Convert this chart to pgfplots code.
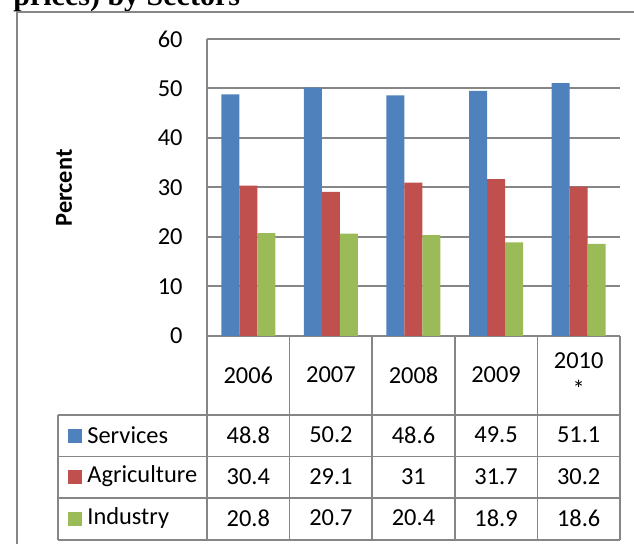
\documentclass[border=0pt]{standalone}
\usepackage{pgfplots}
\usepackage{pgfplotstable}
\pgfplotsset{compat=1.18}
\usepackage{fontspec}
\setmainfont{Carlito}
\newfontfamily\titlefont{Liberation Serif}

\definecolor{svc}{RGB}{79,129,189}
\definecolor{agr}{RGB}{192,80,77}
\definecolor{ind}{RGB}{155,187,89}
\definecolor{lin}{RGB}{134,134,134}

\pgfplotstableread{
x services agriculture industry
0 48.8 30.4 20.8
1 50.2 29.1 20.7
2 48.6 31 20.4
3 49.5 31.7 18.9
4 51.1 30.2 18.6
}\data

\newcommand{\cf}{\fontsize{12.2}{14.5}\selectfont}

\begin{document}
\begin{tikzpicture}
\useasboundingbox (0,0) rectangle (317pt,-272pt);

% title (cut at the top) and outer frame, coordinates in pixels
\begin{scope}[x=0.5pt,y=-0.5pt]
  \node[overlay, anchor=base west, inner sep=0pt, font=\titlefont\fontsize{15}{18}\selectfont\bfseries] at (13,6) {prices) by Sectors};
  \draw[lin, line width=1pt] (17,544) -- (17,12.5) -- (634,12.5);
  \node[rotate=90, font=\cf\bfseries] at (64,188) {Percent};

  % data table grid
  \foreach \k in {0,...,5} {
    \draw[lin, line width=0.8pt] ({207+\k*82.6},336) -- ({207+\k*82.6},540);
  }
  \draw[lin, line width=0.8pt] (58,415) -- (58,540);
  \foreach \yy in {415,456.7,498.3,540} {
    \draw[lin, line width=0.8pt] (58,\yy) -- (620,\yy);
  }
  % legend keys in the table
  \fill[svc] (68,429) rectangle (82,443);
  \fill[agr] (68,470.5) rectangle (82,484.5);
  \fill[ind] (68,512) rectangle (82,526);
  \node[anchor=west, inner sep=0pt, font=\cf] at (87,435) {Services};
  \node[anchor=west, inner sep=0pt, font=\cf] at (87,476.5) {Agriculture};
  \node[anchor=west, inner sep=0pt, font=\cf] at (87,518) {Industry};
\end{scope}

\begin{axis}[
  at={(103.5pt,-168pt)}, anchor=south west,
  scale only axis,
  width=206.5pt, height=148.5pt,
  xmin=-0.5, xmax=4.5,
  ymin=0, ymax=60,
  ytick={0,10,...,60},
  xtick={0,...,4},
  xticklabels={2006,2007,2008,2009,{2010\\*}},
  axis lines*=left,
  axis line style={draw=lin, line width=1pt},
  ymajorgrids,
  grid style={draw=lin, line width=1pt},
  major tick length=0pt,
  tick label style={font=\cf},
  yticklabel style={anchor=east, inner sep=0pt, xshift=-12pt},
  xticklabel style={anchor=center, align=center, inner sep=0pt, yshift=-19.5pt},
  /pgf/number format/assume math mode=true,
  clip=false,
  nodes near coords style={font=\cf, anchor=center, inner sep=0pt},
]
  \addplot[ybar, bar width=9pt, bar shift=-9pt, fill=svc, draw=none] table[x=x, y=services] {\data};
  \addplot[ybar, bar width=9pt, bar shift=0pt, fill=agr, draw=none] table[x=x, y=agriculture] {\data};
  \addplot[ybar, bar width=9pt, bar shift=9pt, fill=ind, draw=none] table[x=x, y=industry] {\data};

  % table values, one row per series
  \addplot[draw=none, mark=none, forget plot, nodes near coords, point meta=explicit symbolic]
    table[x=x, y expr=-20.0, meta=services] {\data};
  \addplot[draw=none, mark=none, forget plot, nodes near coords, point meta=explicit symbolic]
    table[x=x, y expr=-28.4, meta=agriculture] {\data};
  \addplot[draw=none, mark=none, forget plot, nodes near coords, point meta=explicit symbolic]
    table[x=x, y expr=-36.8, meta=industry] {\data};
\end{axis}
\end{tikzpicture}
\end{document}
